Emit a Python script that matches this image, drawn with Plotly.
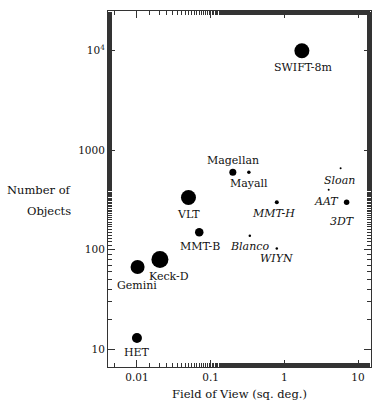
import numpy as np
import plotly.graph_objects as go

# ---- data ----
telescopes = ["SWIFT-8m", "Magellan", "Mayall", "VLT", "MMT-H", "AAT", "Sloan",
              "3DT", "MMT-B", "Blanco", "WIYN", "Keck-D", "Gemini", "HET"]
field_of_view = [1.73, 0.20, 0.33, 0.050, 0.79, 4.0, 5.8,
                 7.0, 0.070, 0.34, 0.79, 0.0205, 0.0102, 0.0100]
n_objects = [10000, 600, 600, 335, 300, 400, 660,
             300, 150, 138, 103, 80, 67, 13]
italic_label = [False, False, False, False, True, True, True,
                True, False, True, True, False, False, False]

x_tickvals = [0.01, 0.1, 1, 10]
x_ticktext = ["0.01", "0.1", "1", "10"]
y_tickvals = [10, 100, 1000, 10000]
y_ticktext = ["10", "100", "1000", "10<sup>4</sup>"]

# ---- styling (not data) ----
marker_px = [15, 7, 3.5, 15, 4, 2, 2, 5.5, 8.5, 2.5, 2.5, 17, 14, 10]
label_dx = [1, 0, 0, 0, -3, -2, -1, -4, 1, 0, 0, 9, -1, 0]
label_dy = [-17, 12, -11, -17, -11, -12, -12, -19, -14, -11, -10, -17, -18, -15]

FONT = "DejaVu Serif"
INK = "#111111"

fig = go.Figure()
fig.add_trace(go.Scatter(
    x=field_of_view, y=n_objects, mode="markers",
    marker=dict(color="#000000", size=marker_px, opacity=1, line=dict(width=0)),
    text=telescopes, hoverinfo="text", showlegend=False,
))

annotations = []
for name, xv, yv, it, dx, dy in zip(telescopes, field_of_view, n_objects,
                                     italic_label, label_dx, label_dy):
    annotations.append(dict(
        x=np.log10(xv), y=np.log10(yv), xref="x", yref="y",
        text=f"<i>{name}</i>" if it else name,
        showarrow=False, xshift=dx, yshift=dy,
        xanchor="center", yanchor="middle",
        font=dict(family=FONT, size=11, color=INK),
    ))

# y-axis title (horizontal, right aligned, two lines)
annotations.append(dict(x=-0.133, y=0.497, xref="paper", yref="paper",
                        text="Number of", showarrow=False, xanchor="right",
                        yanchor="middle", font=dict(family=FONT, size=11.5, color=INK)))
annotations.append(dict(x=-0.133, y=0.439, xref="paper", yref="paper",
                        text="Objects", showarrow=False, xanchor="right",
                        yanchor="middle", font=dict(family=FONT, size=11.5, color=INK)))

axis_common = dict(
    type="log", showline=True, linecolor="#333", linewidth=1, mirror="ticks",
    ticks="inside", ticklen=7, tickcolor="#333", tickwidth=1,
    showgrid=False, zeroline=False,
    tickfont=dict(family=FONT, size=10.5, color=INK),
    minor=dict(ticks="inside", ticklen=4, tickcolor="#333", showgrid=False),
)

fig.update_layout(
    width=372, height=401,
    margin=dict(l=108, r=1, t=11, b=34),
    paper_bgcolor="white", plot_bgcolor="white",
    xaxis=dict(range=[-2.393, 1.176], tickvals=x_tickvals, ticktext=x_ticktext,
               title=dict(text="Field of View (sq. deg.)", standoff=8,
                          font=dict(family=FONT, size=11.5, color=INK)),
               **axis_common),
    yaxis=dict(range=[0.822, 4.399], tickvals=y_tickvals, ticktext=y_ticktext,
               **axis_common),
    annotations=annotations,
)

fig.write_html("out.html")
